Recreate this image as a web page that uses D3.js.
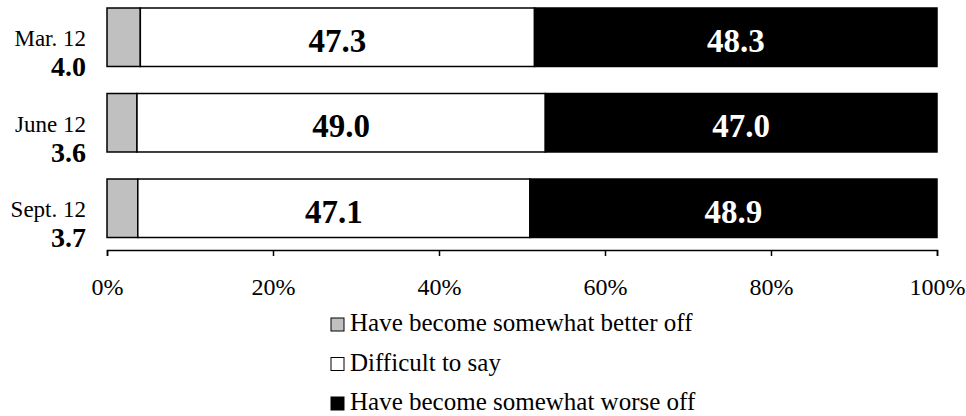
<!DOCTYPE html>
<html>
<head>
<meta charset="utf-8">
<script src="https://cdn.jsdelivr.net/npm/d3@7"></script>
<style>
  html, body { margin: 0; padding: 0; background: #fff; }
  svg { display: block; font-family: "Liberation Serif", "Times New Roman", serif; }
</style>
</head>
<body>
<svg id="chart" width="966" height="416"></svg>
<script>
// Survey waves, top to bottom
const periods = ["Mar. 12", "June 12", "Sept. 12"];
// Shares of answers per wave (%)
const betterOff = [4.0, 3.6, 3.7];
const difficult = [47.3, 49.0, 47.1];
const worseOff = [48.3, 47.0, 48.9];
const seriesNames = ["Have become somewhat better off", "Difficult to say", "Have become somewhat worse off"];
const tickValues = [0, 20, 40, 60, 80, 100];

const fills = ["#c0c0c0", "#ffffff", "#000000"];
const labelFills = [null, "#000000", "#ffffff"];

const svg = d3.select("#chart");

const x = d3.scaleLinear().domain([0, 100]).range([107, 937]);
const y = d3.scaleBand().domain(periods).range([8, 237.5]).paddingInner(0.316).paddingOuter(0);

// Build rows, normalised to 100% like a 100% stacked bar
const rows = periods.map((p, i) => {
  const vals = [betterOff[i], difficult[i], worseOff[i]];
  const total = d3.sum(vals);
  let acc = 0;
  const segs = vals.map((v, k) => {
    const s = { period: p, k, value: v, x0: acc / total * 100, x1: (acc + v) / total * 100 };
    acc += v;
    return s;
  });
  return { period: p, segs };
});

const segs = rows.flatMap(r => r.segs);

svg.append("g").selectAll("rect")
  .data(segs)
  .join("rect")
  .attr("x", d => x(d.x0))
  .attr("y", d => y(d.period))
  .attr("width", d => x(d.x1) - x(d.x0))
  .attr("height", y.bandwidth())
  .attr("fill", d => fills[d.k])
  .attr("stroke", "#000")
  .attr("stroke-width", 1.5);

// Value labels inside the wide segments
svg.append("g").selectAll("text")
  .data(segs.filter(d => d.k > 0))
  .join("text")
  .attr("x", d => (x(d.x0) + x(d.x1)) / 2)
  .attr("y", d => y(d.period) + y.bandwidth() / 2 + 14.5)
  .attr("text-anchor", "middle")
  .attr("font-weight", "bold")
  .attr("font-size", 33)
  .attr("fill", d => labelFills[d.k])
  .text(d => d.value.toFixed(1));

// Category labels with the "better off" share beneath
const cat = svg.append("g").selectAll("g")
  .data(rows)
  .join("g");
cat.append("text")
  .attr("x", 86)
  .attr("y", d => y(d.period) + 38)
  .attr("text-anchor", "end")
  .attr("font-size", 23)
  .text(d => d.period);
cat.append("text")
  .attr("x", 86)
  .attr("y", d => y(d.period) + 68)
  .attr("text-anchor", "end")
  .attr("font-size", 28)
  .attr("font-weight", "bold")
  .text(d => d.segs[0].value.toFixed(1));

// Percentage axis
const axis = d3.axisBottom(x)
  .tickValues(tickValues)
  .tickFormat(d => d + "%")
  .tickSize(6)
  .tickSizeOuter(6)
  .tickPadding(22);
const ax = svg.append("g")
  .attr("transform", "translate(0,250)")
  .call(axis);
ax.select(".domain").attr("stroke", "#000").attr("stroke-width", 1.5);
ax.selectAll(".tick line").attr("stroke", "#000").attr("stroke-width", 1.5);
ax.selectAll(".tick text")
  .attr("font-family", "'Liberation Serif', 'Times New Roman', serif")
  .attr("font-size", 24)
  .attr("fill", "#000");

// Legend
const leg = svg.append("g").selectAll("g")
  .data(seriesNames)
  .join("g")
  .attr("transform", (d, i) => `translate(331,${331 + i * 39.5})`);
leg.append("rect")
  .attr("x", 0)
  .attr("y", -13)
  .attr("width", 13)
  .attr("height", 13)
  .attr("fill", (d, i) => fills[i])
  .attr("stroke", "#000")
  .attr("stroke-width", 1);
leg.append("text")
  .attr("x", 19)
  .attr("y", 0)
  .attr("font-size", 25)
  .text(d => d);
</script>
</body>
</html>
